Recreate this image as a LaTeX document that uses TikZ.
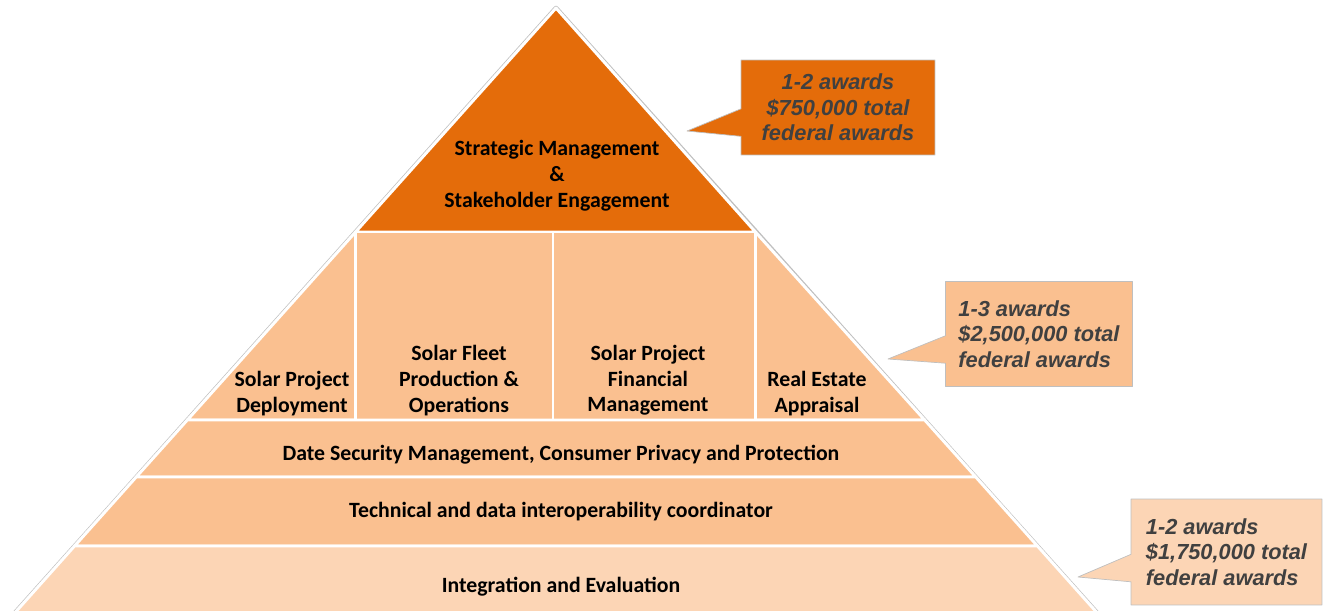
\documentclass[tikz,border=0pt]{standalone}
\usepackage{fontspec}
\setmainfont{Carlito}
\newfontfamily\awardfont{Liberation Sans}
\usetikzlibrary{shapes.callouts}
\definecolor{darkorange}{RGB}{228,108,10}
\definecolor{lightorange}{RGB}{250,192,144}
\definecolor{paleorange}{RGB}{252,213,181}
\definecolor{textgray}{RGB}{64,64,64}
\definecolor{edgegray}{RGB}{191,191,191}
\begin{document}
\begin{tikzpicture}[x=0.02cm,y=-0.02cm,line join=round,
	block/.style={draw=white,line width=1.7pt},
	tiertext/.style={font=\fontsize{12.4}{14.7}\selectfont\bfseries,align=center,inner sep=0pt},
	award/.style={rectangle callout,draw=edgegray,line width=0.4pt,inner sep=0pt,
		font=\awardfont\fontsize{12.4}{14.5}\selectfont\bfseries\itshape,text=textgray,
		callout pointer width=0.55cm}]
	\useasboundingbox (0,0) rectangle (1323,611);
	\clip (0,0) rectangle (1323,611);
	% outer edge of the pyramid
	\draw[edgegray,line width=2.6pt] (-63,700) -- (556,8) -- (1175,700);
	% top
	\fill[block,fill=darkorange] (556,8) -- (755.5,232) -- (355.5,232) -- cycle;
	% second tier
	\fill[block,fill=lightorange] (355.5,232) -- (355.5,420) -- (187.3,420) -- cycle;
	\fill[block,fill=lightorange] (355.5,232) rectangle (553,420);
	\fill[block,fill=lightorange] (553,232) rectangle (755.5,420);
	\fill[block,fill=lightorange] (755.5,232) -- (755.5,420) -- (924.7,420) -- cycle;
	% lower bands
	\fill[block,fill=lightorange] (187.3,420) -- (924.7,420) -- (975.8,477) -- (136.2,477) -- cycle;
	\fill[block,fill=lightorange] (136.2,477) -- (975.8,477) -- (1037.5,546) -- (74.5,546) -- cycle;
	\fill[block,fill=paleorange] (74.5,546) -- (1037.5,546) -- (1175,700) -- (-63,700) -- cycle;
	% labels
	\node[tiertext] (strategic) at (557,176) {Strategic Management\\\&\\Stakeholder Engagement};
	\node[tiertext,anchor=south] (deploy) at (292,416) {Solar Project\\Deployment};
	\node[tiertext,anchor=south] (fleet) at (459,416) {Solar Fleet\\Production \&\\Operations};
	\node[tiertext,anchor=south] (finance) at (648,416) {Solar Project\\Financial\\Management};
	\node[tiertext,anchor=south] (estate) at (817,416) {Real Estate\\Appraisal};
	\node[tiertext] (security) at (561,455) {Date Security Management, Consumer Privacy and Protection};
	\node[tiertext] (interop) at (561,512) {Technical and data interoperability coordinator};
	\node[tiertext] (integration) at (561,587) {Integration and Evaluation};
	% award callouts
	\node[award,fill=darkorange,align=center,minimum width=3.88cm,minimum height=1.9cm,
		callout absolute pointer={(687,131)}] (awardtop) at (838,107.5)
		{1-2 awards\\\$750,000 total\\federal awards};
	\node[award,fill=lightorange,align=left,minimum width=3.74cm,minimum height=2.1cm,
		callout absolute pointer={(888,359)}] (awardmid) at (1039,334)
		{1-3 awards\\\$2,500,000 total\\federal awards};
	\node[award,fill=paleorange,align=left,minimum width=3.82cm,minimum height=2.12cm,
		callout absolute pointer={(1078,577)}] (awardlow) at (1226.5,552)
		{1-2 awards\\\$1,750,000 total\\federal awards};
\end{tikzpicture}
\end{document}
